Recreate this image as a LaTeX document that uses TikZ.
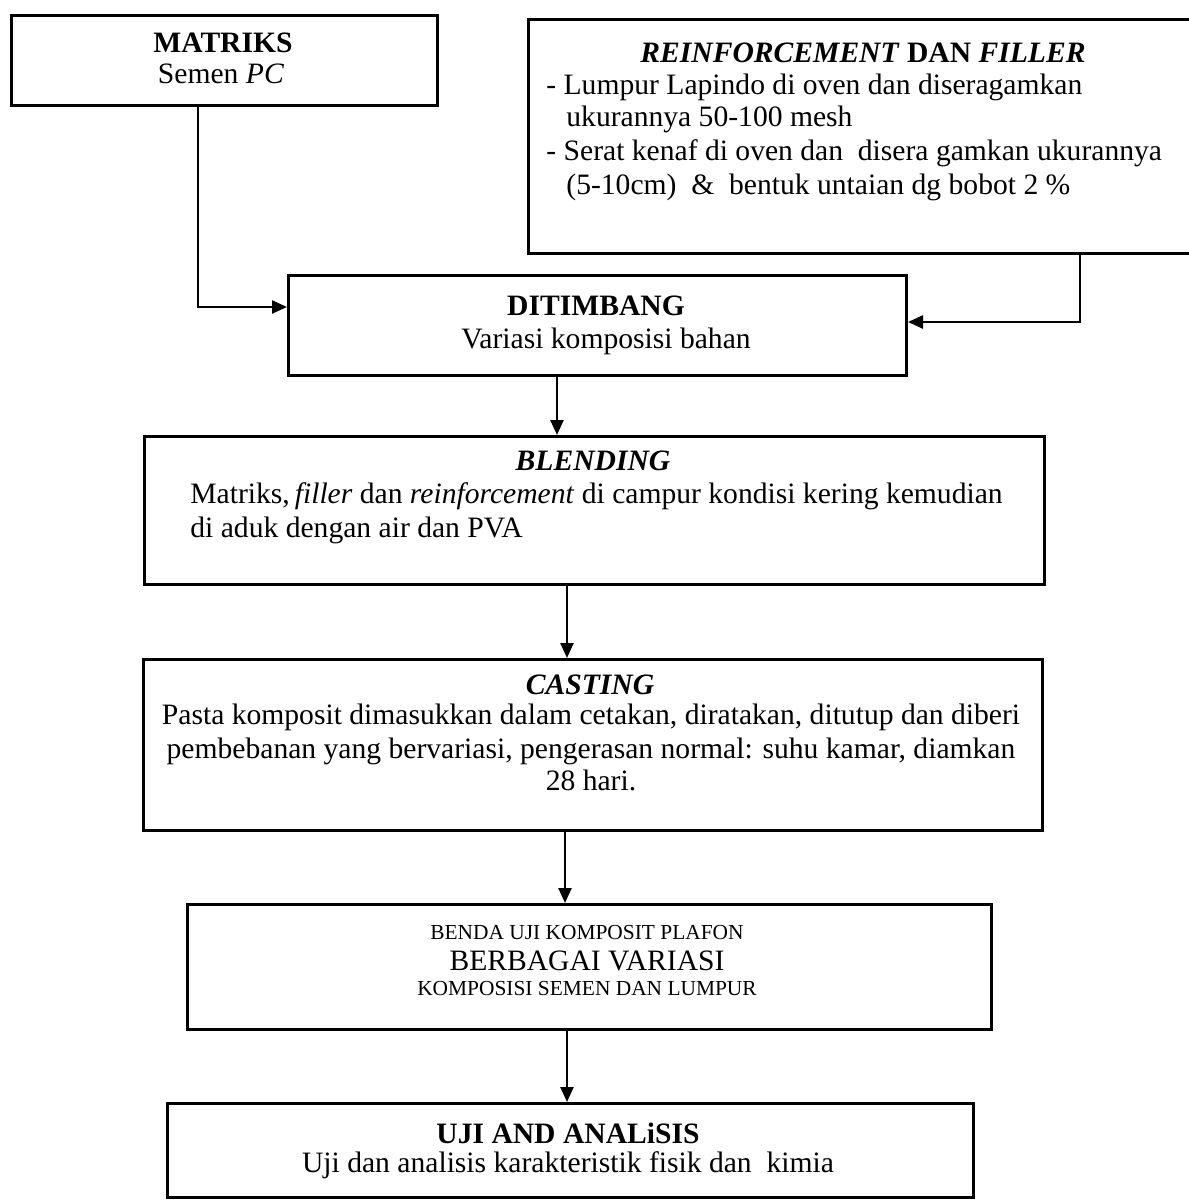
\documentclass[tikz,border=0pt]{standalone}
\usepackage{fontspec}
\setmainfont{Liberation Serif}
\usetikzlibrary{arrows.meta}
\begin{document}
\begin{tikzpicture}[x=0.5pt,y=-0.5pt,
  box/.style={draw, line width=1.5pt, rectangle, anchor=north west, inner sep=0pt},
  conn/.style={line width=1.2pt, -{Triangle[length=7.5pt,width=6.5pt]}},
  txt/.style={anchor=base, inner sep=0pt, font=\fontsize{14.8}{17}\selectfont},
  txtb/.style={anchor=base, inner sep=0pt, font=\fontsize{14.8}{17}\selectfont\bfseries},
  txtl/.style={anchor=base west, inner sep=0pt, font=\fontsize{14.8}{17}\selectfont},
  small/.style={anchor=base, inner sep=0pt, font=\fontsize{10.7}{12}\selectfont},
  big/.style={anchor=base, inner sep=0pt, font=\fontsize{14.8}{17}\selectfont}]
\useasboundingbox (0,0) rectangle (1189,1201);
\fill[white] (0,0) rectangle (1189,1201);

% boxes
\node[box, minimum width=213pt, minimum height=45pt] (mat) at (10,14) {};
\node[box, minimum width=340pt, minimum height=117pt] (rf) at (527,18) {};
\node[box, minimum width=309pt, minimum height=50pt] (dit) at (287,274) {};
\node[box, minimum width=450pt, minimum height=74pt] (bl) at (143,435) {};
\node[box, minimum width=449.5pt, minimum height=85.5pt] (ca) at (142,658) {};
\node[box, minimum width=402pt, minimum height=62.5pt] (bu) at (186,903) {};
\node[box, minimum width=403pt, minimum height=47pt] (uj) at (166,1102) {};

% texts
\node[txtb] (m1) at (223,52) {MATRIKS};
\node[txt] (m2) at (221,83) {Semen \textit{PC}};

\node[txtb] (r0) at (863,62) {\textit{REINFORCEMENT} DAN \textit{FILLER}};
\node[txtl] (r1) at (546,94) {- Lumpur Lapindo di oven dan diseragamkan};
\node[txtl] (r2) at (566,126) {ukurannya 50-100 mesh};
\node[txtl] (r3) at (546,160) {- Serat kenaf di oven dan\ \ disera gamkan ukurannya};
\node[txtl] (r4) at (566,194) {(5-10cm)\ \ \&\ \ bentuk untaian dg bobot 2 \%};

\node[txtb] (d1) at (596,315) {DITIMBANG};
\node[txt] (d2) at (606,348) {Variasi komposisi bahan};

\node[txtb] (b0) at (593,470) {\textit{BLENDING}};
\node[txtl] (b1) at (190,503) {Matriks,\,\textit{filler} dan \textit{reinforcement} di campur kondisi kering kemudian};
\node[txtl] (b2) at (190,537) {di aduk dengan air dan PVA};

\node[txtb] (c0) at (590,694) {\textit{CASTING}};
\node[txt] (c1) at (591,724) {Pasta komposit dimasukkan dalam cetakan, diratakan, ditutup dan diberi};
\node[txt] (c2) at (591,758) {pembebanan yang bervariasi, pengerasan normal: suhu kamar, diamkan};
\node[txt] (c3) at (591,790) {28 hari.};

\node[small] (u1) at (587,939) {BENDA UJI KOMPOSIT PLAFON};
\node[big] (u2) at (587,970) {BERBAGAI VARIASI};
\node[small] (u3) at (587,995) {KOMPOSISI SEMEN DAN LUMPUR};

\node[txtb] (a1) at (568,1143) {UJI AND ANALiSIS};
\node[txt] (a2) at (568,1172) {Uji dan analisis karakteristik fisik dan\ \ kimia};

% connector guides
\coordinate (g1) at (198,307);
\coordinate (g2) at (1080,322);
\coordinate (g3) at (557,0);
\coordinate (g4) at (567,0);
\coordinate (g5) at (565,0);
\coordinate (g6) at (567,0);

\draw[conn] (mat.south -| g1) |- (dit.west |- g1);
\draw[conn] (rf.south -| g2) |- (dit.east |- g2);
\draw[conn] (dit.south -| g3) -- (bl.north -| g3);
\draw[conn] (bl.south -| g4) -- (ca.north -| g4);
\draw[conn] (ca.south -| g5) -- (bu.north -| g5);
\draw[conn] (bu.south -| g6) -- (uj.north -| g6);
\end{tikzpicture}
\end{document}
